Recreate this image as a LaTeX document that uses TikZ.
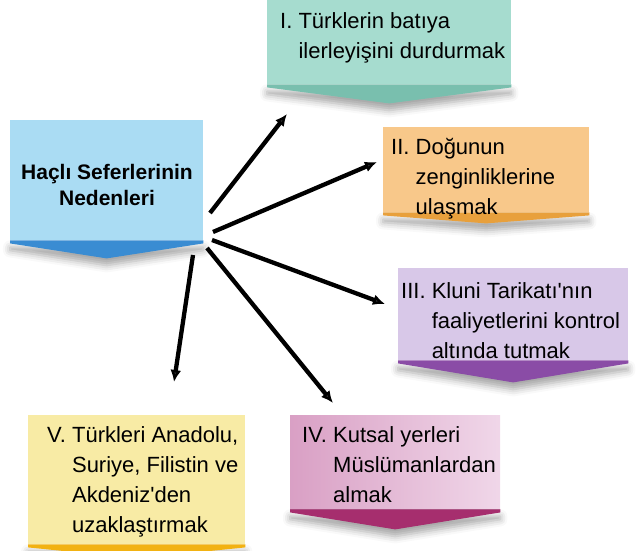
\documentclass[tikz,border=0pt]{standalone}
\usepackage{fontspec}
\setmainfont{Liberation Sans}
\usetikzlibrary{calc}
\usetikzlibrary{positioning}
\usetikzlibrary{arrows.meta}
\usetikzlibrary{shadows.blur}
\definecolor{LightBlue}{HTML}{AADCF3}
\definecolor{DarkBlue}{HTML}{3A8CD2}
\definecolor{LightTeal}{HTML}{A6DCCF}
\definecolor{DarkTeal}{HTML}{79BFAE}
\definecolor{LightOrange}{HTML}{F8C88A}
\definecolor{DarkOrange}{HTML}{E8A03C}
\definecolor{LightLilac}{HTML}{D8C8E8}
\definecolor{DarkPurple}{HTML}{8A4CA6}
\definecolor{LightPink}{HTML}{E6BCDA}
\definecolor{DarkMagenta}{HTML}{A62E6E}
\definecolor{LightYellow}{HTML}{F8EBA5}
\definecolor{DarkYellow}{HTML}{F2B212}
\newcommand{\reasonlines}[2]{\begin{tabular}{@{}l@{\ }l@{}}#1 & #2\end{tabular}}
\tikzset{
  causebox/.style={rectangle, anchor=north west, inner sep=0pt},
  causetext/.style={anchor=north west, inner sep=0pt, font=\fontsize{22}{30}\selectfont},
  chevronfill/.style={blur shadow={shadow xshift=0pt, shadow yshift=-7pt,
      shadow blur radius=7pt, shadow opacity=35}},
  reasonarrow/.style={line width=4.3pt, -{Latex[length=12pt,width=11pt]}}
}

\begin{document}
\begin{tikzpicture}[x=1pt, y=-1pt]
  \useasboundingbox (0,0) rectangle (637,551);

  % boxes
  \node[causebox, fill=LightBlue, minimum width=193, minimum height=120] (main) at (10,120) {};
  \node[causebox, fill=LightTeal, minimum width=244, minimum height=98] (b1) at (267,-14) {};
  \node[causebox, fill=LightOrange, minimum width=206, minimum height=85] (b2) at (383,127) {};
  \node[causebox, fill=LightLilac, minimum width=230, minimum height=92] (b3) at (398,268) {};
  \node[causebox, left color=LightPink!80!DarkMagenta, right color=LightPink!60!white,
        minimum width=210, minimum height=94] (b4) at (290,415) {};
  \node[causebox, fill=LightYellow, minimum width=217, minimum height=129] (b5) at (28,415) {};

  % chevrons under the boxes
  \foreach \b/\c/\d in {main/DarkBlue/18, b1/DarkTeal/19, b2/DarkOrange/11,
                         b3/DarkPurple/22, b4/DarkMagenta/20, b5/DarkYellow/14}
  {
    \fill[\c, chevronfill] (\b.south west) -- (\b.south east) -- ++(0,3)
      -- ($(\b.south)+(0,\d)$) -- ($(\b.south west)+(0,3)$) -- cycle;
  }

  % texts
  \node[anchor=center, inner sep=0pt, align=center, font=\fontsize{21}{26}\selectfont\bfseries]
    (title) at (107,185) {Haçlı Seferlerinin\\Nedenleri};
  \node[causetext] (t1) at (280,7)
    {\reasonlines{I.}{Türklerin batıya\\ & ilerleyişini durdurmak}};
  \node[causetext] (t2) at (391,133)
    {\reasonlines{II.}{Doğunun\\ & zenginliklerine\\ & ulaşmak}};
  \node[causetext] (t3) at (401,277)
    {\reasonlines{III.}{Kluni Tarikatı\textquotesingle nın\\ & faaliyetlerini kontrol\\ & altında tutmak}};
  \node[causetext] (t4) at (302,421)
    {\reasonlines{IV.}{Kutsal yerleri\\ & Müslümanlardan\\ & almak}};
  \node[causetext] (t5) at (47,421)
    {\reasonlines{V.}{Türkleri Anadolu,\\ & Suriye, Filistin ve\\ & Akdeniz\textquotesingle den\\ & uzaklaştırmak}};

  % arrows
  \coordinate (s1) at (210,213);
  \coordinate (s2) at (213,232);
  \coordinate (s3) at (212,240);
  \coordinate (s4) at (207,248);
  \coordinate (s5) at (193,255);
  \coordinate (e1) at (287,114);
  \coordinate (e2) at (377,162);
  \coordinate (e3) at (385,304);
  \coordinate (e4) at (333,403);
  \coordinate (e5) at (174,382);
  \foreach \i in {1,...,5}
  {
    \draw[reasonarrow] (s\i) -- (e\i);
  }

\end{tikzpicture}
\end{document}
